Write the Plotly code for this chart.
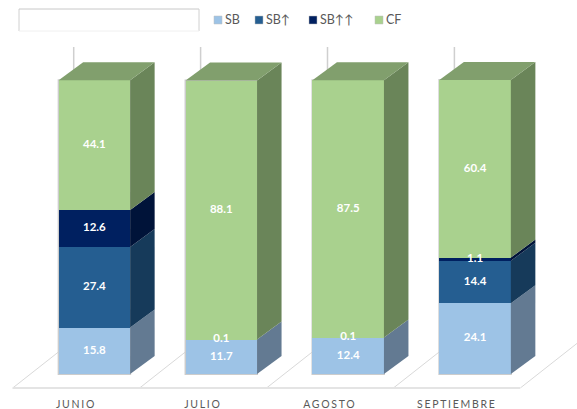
import plotly.graph_objects as go

months = ["JUNIO", "JULIO", "AGOSTO", "SEPTIEMBRE"]
sb = [15.8, 11.7, 12.4, 24.1]
sb_up = [27.4, 0.0, 0.0, 14.4]
sb_up2 = [12.6, 0.0, 0.0, 1.1]
cf = [44.1, 88.1, 87.5, 60.4]
labels_sb_up = ["27.4", "", "", "14.4"]
labels_sb_up2 = ["12.6", "0.1", "0.1", "1.1"]
series = [
    ("SB", sb, "#9DC3E6", "#637A92"),
    ("SB↑", sb_up, "#255E91", "#163A5A"),
    ("SB↑↑", sb_up2, "#002060", "#001339"),
    ("CF", cf, "#A9D18E", "#6A8559"),
]
TOP_COLOR = "#819F6D"
W, H = 577, 409
BOTTOM = 13
X0, STEP, BAR_W = 94.4, 126.9, 71.5
Y0, UNIT = 374.0, 2.94
DX_PX, DY_PX = 24.5, 18.0


def X(px):
    return (px - X0) / STEP


def Y(px):
    return (Y0 - px) / UNIT


bw = BAR_W / STEP
dx = DX_PX / STEP
dy = DY_PX / UNIT
xs = list(range(len(months)))
fig = go.Figure()
shapes = []

# floor and walls
for i in range(5):
    fx = 12.7 + i * STEP
    shapes.append(dict(type="line", layer="below", x0=X(fx), y0=Y(388), x1=X(fx + 61), y1=Y(340),
                       line=dict(color="#D9D9D9", width=1)))
    shapes.append(dict(type="line", layer="below", x0=X(fx + 61), y0=Y(340), x1=X(fx + 61), y1=Y(47),
                       line=dict(color="#CFCFCF", width=1.5)))
shapes.append(dict(type="line", layer="below", x0=X(12.7), y0=Y(388), x1=X(520), y1=Y(388),
                   line=dict(color="#E4E4E4", width=2)))

# bars
for name, vals, col, side in series:
    fig.add_bar(x=xs, y=vals, name=name, width=bw, marker=dict(color=col, line=dict(width=0)),
                showlegend=False, hoverinfo="skip")

# side and top faces
base = [0.0] * 4
for name, vals, col, side in series:
    for i, v in enumerate(vals):
        if v <= 0:
            continue
        r = i + bw / 2
        a, b = base[i], base[i] + v
        fig.add_scatter(x=[r, r + dx, r + dx, r, r], y=[a, a + dy, b + dy, b, a], mode="lines",
                        fill="toself", fillcolor=side, line=dict(width=0), showlegend=False, hoverinfo="skip")
        base[i] = b
for i, t in enumerate(base):
    l, r = i - bw / 2, i + bw / 2
    fig.add_scatter(x=[l, r, r + dx, l + dx, l], y=[t, t, t + dy, t + dy, t], mode="lines",
                    fill="toself", fillcolor=TOP_COLOR, line=dict(width=0), showlegend=False, hoverinfo="skip")
    # soft edge around the front of each column
    shapes.append(dict(type="rect", layer="below", x0=l - 1 / STEP, x1=r + 1 / STEP, y0=-1 / UNIT, y1=t + 1 / UNIT,
                       fillcolor="#CCCCCC", line=dict(width=0)))

# data labels
lx, ly, lt = [], [], []
for i in xs:
    b0 = sb[i]
    lx.append(i); ly.append(b0 / 2); lt.append(f"{sb[i]:.1f}")
    if labels_sb_up[i]:
        lx.append(i); ly.append(b0 + sb_up[i] / 2); lt.append(labels_sb_up[i])
    b1 = b0 + sb_up[i]
    lx.append(i); ly.append(b1 + sb_up2[i] / 2); lt.append(labels_sb_up2[i])
    b2 = b1 + sb_up2[i]
    lx.append(i); ly.append(b2 + cf[i] / 2); lt.append(f"{cf[i]:.1f}")
fig.add_scatter(x=lx, y=ly, text=lt, mode="text", showlegend=False, hoverinfo="skip",
                textfont=dict(family="Lato", size=11.5, color="white", weight="bold"))

# empty title box
for a, b, c, d, colr in [(19, 9, 19, 31, "#D0D0D0"), (19, 9, 199, 9, "#C8C8C8"), (199, 9, 199, 31, "#D0D0D0"),
                         (19, 31, 199, 31, "#F0F0F0")]:
    shapes.append(dict(type="line", xref="x", yref="y", x0=X(a), y0=Y(b), x1=X(c), y1=Y(d),
                       line=dict(color=colr, width=1)))

# legend
anns = []
for (name, vals, col, side), mx in zip(series, [214, 255, 309, 375]):
    shapes.append(dict(type="rect", x0=X(mx), x1=X(mx + 8), y0=Y(24), y1=Y(16), fillcolor=col,
                       line=dict(color="#BFBFBF", width=0.5)))
    anns.append(dict(x=X(mx + 9), y=Y(19.5), text=name, showarrow=False, xanchor="left", yanchor="middle",
                     font=dict(family="Lato", size=12.5, color="#595959")))

fig.update_layout(
    width=W, height=H, barmode="stack", margin=dict(l=0, r=0, t=0, b=BOTTOM),
    paper_bgcolor="white", plot_bgcolor="white", shapes=shapes, annotations=anns, showlegend=False,
    xaxis=dict(range=[X(0), X(W)], showgrid=False, zeroline=False, showline=False, ticks="",
               tickmode="array", tickvals=[i - 18.4 / STEP for i in xs], ticktext=months,
               tickfont=dict(family="Lato", size=10.5, color="#595959")),
    yaxis=dict(range=[Y(H - BOTTOM), Y(0)], visible=False),
)
fig.write_html("out.html", config={"displayModeBar": False},
               post_script="document.body.style.margin='0';document.body.style.overflow='hidden';"
                           "document.querySelectorAll('.xtick text').forEach(t=>t.style.letterSpacing='1.7px');")
